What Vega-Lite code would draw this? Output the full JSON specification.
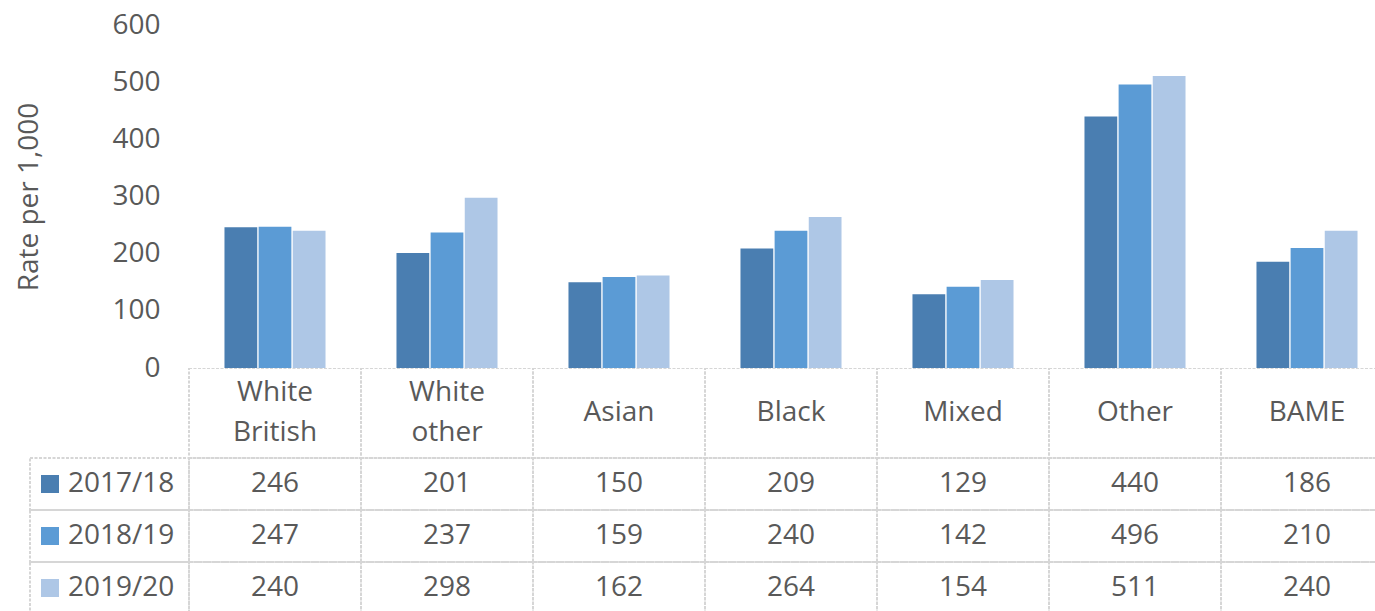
{
  "$schema": "https://vega.github.io/schema/vega-lite/v6.json",
  "background": "white",
  "padding": {"top": 11, "left": 0, "right": 0, "bottom": 0},
  "spacing": 0,
  "bounds": "flush",
  "config": {
    "view": {"stroke": null},
    "font": "Open Sans",
    "text": {"font": "Open Sans"}
  },
  "datasets": {
    "rates": [
      {"group": "White British", "year": "2017/18", "rate": 246},
      {"group": "White British", "year": "2018/19", "rate": 247},
      {"group": "White British", "year": "2019/20", "rate": 240},
      {"group": "White other", "year": "2017/18", "rate": 201},
      {"group": "White other", "year": "2018/19", "rate": 237},
      {"group": "White other", "year": "2019/20", "rate": 298},
      {"group": "Asian", "year": "2017/18", "rate": 150},
      {"group": "Asian", "year": "2018/19", "rate": 159},
      {"group": "Asian", "year": "2019/20", "rate": 162},
      {"group": "Black", "year": "2017/18", "rate": 209},
      {"group": "Black", "year": "2018/19", "rate": 240},
      {"group": "Black", "year": "2019/20", "rate": 264},
      {"group": "Mixed", "year": "2017/18", "rate": 129},
      {"group": "Mixed", "year": "2018/19", "rate": 142},
      {"group": "Mixed", "year": "2019/20", "rate": 154},
      {"group": "Other", "year": "2017/18", "rate": 440},
      {"group": "Other", "year": "2018/19", "rate": 496},
      {"group": "Other", "year": "2019/20", "rate": 511},
      {"group": "BAME", "year": "2017/18", "rate": 186},
      {"group": "BAME", "year": "2018/19", "rate": 210},
      {"group": "BAME", "year": "2019/20", "rate": 240}
    ]
  },
  "vconcat": [
    {
      "width": 1375,
      "height": 343,
      "data": {"name": "rates"},
      "mark": {"type": "bar"},
      "encoding": {
        "x": {
          "field": "group",
          "type": "nominal",
          "axis": null,
          "scale": {
            "domain": ["White British", "White other", "Asian", "Black", "Mixed", "Other", "BAME"],
            "range": [189, 1393],
            "paddingInner": 0.4125,
            "paddingOuter": 0.20625
          }
        },
        "xOffset": {
          "field": "year",
          "type": "nominal",
          "scale": {"domain": ["2017/18", "2018/19", "2019/20"], "paddingInner": 0.04}
        },
        "y": {
          "field": "rate",
          "type": "quantitative",
          "scale": {"domain": [0, 600], "nice": false},
          "axis": {
            "title": "Rate per 1,000",
            "values": [0, 100, 200, 300, 400, 500, 600],
            "offset": -170,
            "domain": false,
            "ticks": false,
            "tickSize": 0,
            "grid": false,
            "labelPadding": 10,
            "labelFont": "Open Sans",
            "labelFontSize": 28,
            "labelColor": "#595959",
            "titleFont": "Open Sans",
            "titleFontSize": 28,
            "titleFontWeight": "normal",
            "titleColor": "#595959",
            "titlePadding": 68
          }
        },
        "color": {
          "field": "year",
          "type": "nominal",
          "scale": {"domain": ["2017/18", "2018/19", "2019/20"], "range": ["#4a7eb1", "#5b9bd5", "#aec7e6"]},
          "legend": null
        }
      }
    },
    {
      "width": 1375,
      "height": 243,
      "data": {"name": "rates"},
      "resolve": {"scale": {"x": "independent", "y": "independent", "color": "independent"}},
      "layer": [
        {
          "transform": [{"filter": "datum.year === '2017/18'"}],
          "mark": {"type": "rect", "fill": "white", "fillOpacity": 0, "stroke": "#d6d6d6", "strokeWidth": 2, "strokeDash": [3, 1.5], "clip": true},
          "encoding": {
            "x": {"field": "group", "type": "nominal", "axis": null,
              "scale": {"domain": ["White British", "White other", "Asian", "Black", "Mixed", "Other", "BAME"], "range": [189, 1393], "paddingInner": 0, "paddingOuter": 0}},
            "y": {"datum": "header", "type": "nominal", "axis": null,
              "scale": {"domain": ["header"], "range": [0, 90], "paddingInner": 0, "paddingOuter": 0}}
          }
        },
        {
          "transform": [{"filter": "datum.year === '2017/18' && indexof(datum.group, ' ') >= 0"}],
          "mark": {"type": "text", "fontSize": 28, "color": "#595959", "lineBreak": " ", "lineHeight": 40, "baseline": "middle", "align": "center", "dy": -20},
          "encoding": {
            "x": {"field": "group", "type": "nominal", "axis": null,
              "scale": {"domain": ["White British", "White other", "Asian", "Black", "Mixed", "Other", "BAME"], "range": [189, 1393], "paddingInner": 0, "paddingOuter": 0}},
            "y": {"datum": "header", "type": "nominal", "axis": null,
              "scale": {"domain": ["header"], "range": [0, 90], "paddingInner": 0, "paddingOuter": 0}},
            "text": {"field": "group"}
          }
        },
        {
          "transform": [{"filter": "datum.year === '2017/18' && indexof(datum.group, ' ') < 0"}],
          "mark": {"type": "text", "fontSize": 28, "color": "#595959", "baseline": "middle", "align": "center"},
          "encoding": {
            "x": {"field": "group", "type": "nominal", "axis": null,
              "scale": {"domain": ["White British", "White other", "Asian", "Black", "Mixed", "Other", "BAME"], "range": [189, 1393], "paddingInner": 0, "paddingOuter": 0}},
            "y": {"datum": "header", "type": "nominal", "axis": null,
              "scale": {"domain": ["header"], "range": [0, 90], "paddingInner": 0, "paddingOuter": 0}},
            "text": {"field": "group"}
          }
        },
        {
          "mark": {"type": "rect", "fill": "white", "fillOpacity": 0, "stroke": "#d6d6d6", "strokeWidth": 2, "strokeDash": [3, 1.5], "clip": true},
          "encoding": {
            "x": {"field": "group", "type": "nominal", "axis": null,
              "scale": {"domain": ["White British", "White other", "Asian", "Black", "Mixed", "Other", "BAME"], "range": [189, 1393], "paddingInner": 0, "paddingOuter": 0}},
            "y": {"field": "year", "type": "nominal", "axis": null,
              "scale": {"domain": ["2017/18", "2018/19", "2019/20"], "range": [90, 246], "paddingInner": 0, "paddingOuter": 0}}
          }
        },
        {
          "mark": {"type": "text", "fontSize": 28, "color": "#595959", "baseline": "middle", "align": "center"},
          "encoding": {
            "x": {"field": "group", "type": "nominal", "axis": null,
              "scale": {"domain": ["White British", "White other", "Asian", "Black", "Mixed", "Other", "BAME"], "range": [189, 1393], "paddingInner": 0, "paddingOuter": 0}},
            "y": {"field": "year", "type": "nominal", "axis": null,
              "scale": {"domain": ["2017/18", "2018/19", "2019/20"], "range": [90, 246], "paddingInner": 0, "paddingOuter": 0}},
            "text": {"field": "rate", "type": "quantitative"}
          }
        },
        {
          "transform": [{"filter": "datum.group === 'White British'"}],
          "mark": {"type": "rect", "fill": "white", "fillOpacity": 0, "stroke": "#d6d6d6", "strokeWidth": 2, "strokeDash": [3, 1.5], "clip": true},
          "encoding": {
            "x": {"datum": "legend", "type": "nominal", "axis": null,
              "scale": {"domain": ["legend"], "range": [30, 189], "paddingInner": 0, "paddingOuter": 0}},
            "y": {"field": "year", "type": "nominal", "axis": null,
              "scale": {"domain": ["2017/18", "2018/19", "2019/20"], "range": [90, 246], "paddingInner": 0, "paddingOuter": 0}}
          }
        },
        {
          "transform": [{"filter": "datum.group === 'White British'"}],
          "mark": {"type": "point", "shape": "square", "filled": true, "size": 324, "opacity": 1, "strokeWidth": 0},
          "encoding": {
            "x": {"datum": "swatch", "type": "nominal", "axis": null,
              "scale": {"domain": ["swatch"], "range": [41, 59], "paddingInner": 0, "paddingOuter": 0}},
            "y": {"field": "year", "type": "nominal", "axis": null,
              "scale": {"domain": ["2017/18", "2018/19", "2019/20"], "range": [90, 246], "paddingInner": 0, "paddingOuter": 0}},
            "color": {"field": "year", "type": "nominal", "legend": null,
              "scale": {"domain": ["2017/18", "2018/19", "2019/20"], "range": ["#4a7eb1", "#5b9bd5", "#aec7e6"]}}
          }
        },
        {
          "transform": [{"filter": "datum.group === 'White British'"}],
          "mark": {"type": "text", "fontSize": 28, "color": "#595959", "baseline": "middle", "align": "left"},
          "encoding": {
            "x": {"datum": "label", "type": "nominal", "axis": null,
              "scale": {"domain": ["label"], "range": [67, 69], "paddingInner": 0, "paddingOuter": 0}},
            "y": {"field": "year", "type": "nominal", "axis": null,
              "scale": {"domain": ["2017/18", "2018/19", "2019/20"], "range": [90, 246], "paddingInner": 0, "paddingOuter": 0}},
            "text": {"field": "year"}
          }
        }
      ]
    }
  ]
}
